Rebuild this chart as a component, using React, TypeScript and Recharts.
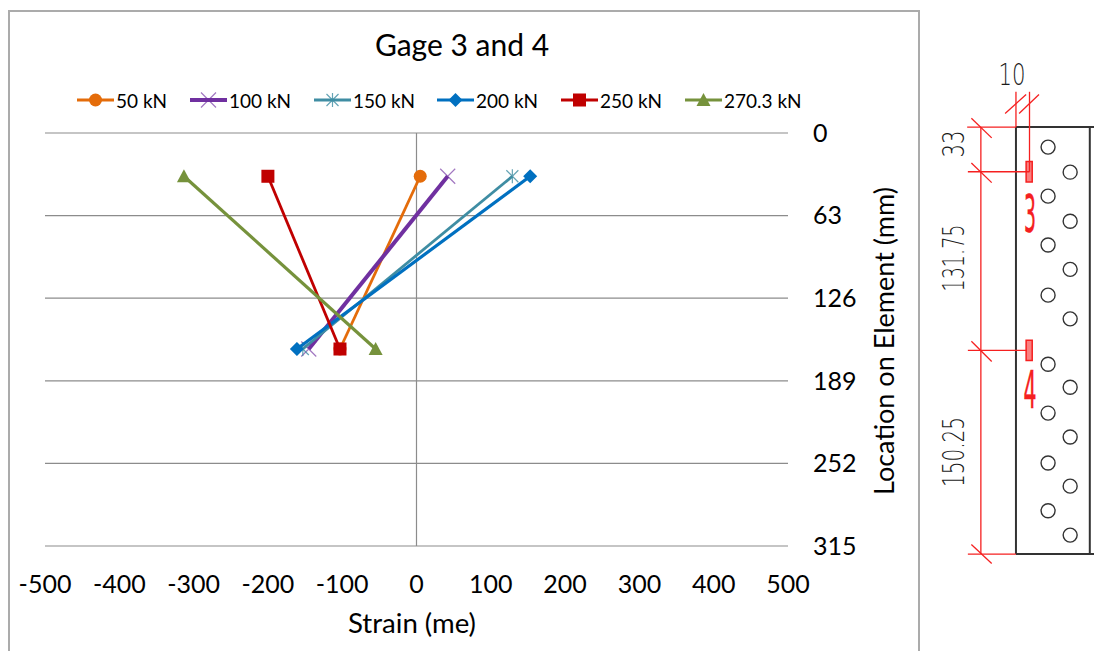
import React from 'react';
import {
  ScatterChart, Scatter, XAxis, YAxis, CartesianGrid, ReferenceLine, ReferenceArea, Legend,
} from 'recharts';

// gauge locations on the element (mm) and strains per load step
const gaugeDepths = [33, 164.75];
const strain50 = [5, -103];
const strain100 = [42, -145];
const strain150 = [129, -153];
const strain200 = [153, -161];
const strain250 = [-200, -103];
const strain270 = [-313, -55];

const xTicks = [-500, -400, -300, -200, -100, 0, 100, 200, 300, 400, 500];
const yTicks = [0, 63, 126, 189, 252, 315];

// element detail, all in mm from the top left corner of the plate
const holesCol1 = [14.8, 51, 87, 124, 175, 211, 247.8, 283];
const holesCol2 = [33.3, 69.5, 105, 141.5, 192, 228.6, 264.9, 301];
const holeX1 = 23.7;
const holeX2 = 40;
const dimX = -25.9;

type Marker = 'circle' | 'x' | 'star' | 'diamond' | 'square' | 'triangle';

function toPoints(strains: number[]) {
  return strains.map((strain, i) => ({ strain, depth: gaugeDepths[i] }));
}

const SERIES = [
  { name: '50 kN', values: strain50, color: '#E46C0A', width: 2.8, marker: 'circle' as Marker, left: 77 },
  { name: '100 kN', values: strain100, color: '#7030A0', width: 4, marker: 'x' as Marker, left: 190 },
  { name: '150 kN', values: strain150, color: '#3F8DA3', width: 2.8, marker: 'star' as Marker, left: 314 },
  { name: '200 kN', values: strain200, color: '#0070C0', width: 3.2, marker: 'diamond' as Marker, left: 437 },
  { name: '250 kN', values: strain250, color: '#C00000', width: 2.8, marker: 'square' as Marker, left: 561 },
  { name: '270.3 kN', values: strain270, color: '#76923C', width: 3.2, marker: 'triangle' as Marker, left: 685 },
];

function markerGlyph(type: Marker, cx: number, cy: number, color: string) {
  switch (type) {
    case 'circle':
      return <circle cx={cx} cy={cy} r={6.5} fill={color} />;
    case 'square':
      return <rect x={cx - 6.5} y={cy - 6.5} width={13} height={13} fill={color} />;
    case 'diamond':
      return <path d={`M${cx - 7} ${cy}L${cx} ${cy - 7}L${cx + 7} ${cy}L${cx} ${cy + 7}Z`} fill={color} />;
    case 'triangle':
      return <path d={`M${cx} ${cy - 7}L${cx + 7} ${cy + 6}L${cx - 7} ${cy + 6}Z`} fill={color} />;
    case 'x':
      return (
        <path d={`M${cx - 7.5} ${cy - 7.5}L${cx + 7.5} ${cy + 7.5}M${cx - 7.5} ${cy + 7.5}L${cx + 7.5} ${cy - 7.5}`}
          stroke={color} strokeOpacity={0.65} strokeWidth={1.2} fill="none" />
      );
    default:
      return (
        <path d={`M${cx - 6} ${cy - 6}L${cx + 6} ${cy + 6}M${cx - 6} ${cy + 6}L${cx + 6} ${cy - 6}M${cx} ${cy - 7}L${cx} ${cy + 7}`}
          stroke={color} strokeOpacity={0.8} strokeWidth={1.2} fill="none" />
      );
  }
}

const LegendRow = () => (
  <div style={{ position: 'relative', width: 918, height: 24 }}>
    {SERIES.map((s) => (
      <div key={s.name} style={{ position: 'absolute', left: s.left, top: 0, display: 'flex', alignItems: 'center' }}>
        <svg width={37} height={24}>
          <line x1={0} x2={37} y1={12} y2={12} stroke={s.color} strokeWidth={s.width} />
          {markerGlyph(s.marker, 18.5, 12, s.color)}
        </svg>
        <span style={{ marginLeft: 2, fontSize: 19, color: '#000', whiteSpace: 'nowrap' }}>{s.name}</span>
      </div>
    ))}
  </div>
);

const StrainChart = () => (
  <ScatterChart
    width={918}
    height={651}
    margin={{ top: 133, right: 0, bottom: 35, left: 45 }}
    style={{ fontFamily: 'Lato, sans-serif', position: 'absolute', left: 0, top: 0 }}
  >
    <CartesianGrid vertical={false} horizontalValues={yTicks} stroke="#8C8C8C" strokeWidth={1.2} />
    <XAxis
      type="number"
      dataKey="strain"
      domain={[-500, 500]}
      ticks={xTicks}
      interval={0}
      height={46}
      axisLine={false}
      tickLine={false}
      tickMargin={23}
      tick={{ fontSize: 25, fill: '#000' }}
    />
    <YAxis
      type="number"
      dataKey="depth"
      orientation="right"
      reversed
      domain={[0, 315]}
      ticks={yTicks}
      interval={0}
      width={130}
      axisLine={false}
      tickLine={false}
      tickMargin={19}
      tick={{ fontSize: 25, fill: '#000' }}
    />
    <ReferenceLine x={0} stroke="#8C8C8C" strokeWidth={1.2} />
    <Legend content={<LegendRow />} wrapperStyle={{ left: 0, top: 88, width: 918 }} />
    {SERIES.map((s) => (
      <Scatter
        key={s.name}
        name={s.name}
        data={toPoints(s.values)}
        line={{ stroke: s.color, strokeWidth: s.width }}
        isAnimationActive={false}
        shape={(p: any) => markerGlyph(s.marker, p.cx, p.cy, s.color)}
      />
    ))}
    <text x={462} y={56} textAnchor="middle" fontSize={30} fill="#000">Gage 3 and 4</text>
    <text x={412} y={633} textAnchor="middle" fontSize={26} fill="#000" textLength={128} lengthAdjust="spacingAndGlyphs">Strain (me)</text>
    <text x={885} y={341} textAnchor="middle" fontSize={26} fill="#000" textLength={308} lengthAdjust="spacingAndGlyphs"
      transform="rotate(-90 885 341)" dy={9}>Location on Element (mm)</text>
  </ScatterChart>
);

const RED = '#F52020';
const DARK = '#333333';

// dimension lines: [x1, y1, x2, y2] in mm
const redSegments = [
  [dimX, 0, dimX, 315],
  [-36, 0, 0, 0],
  [-35.5, 33, 10, 33],
  [-35.5, 164.75, 8, 164.75],
  [-35.5, 315, 0, 315],
  [0, -26, 0, 0],
  [10, -26, 10, 33],
  [dimX - 7, -6.5, dimX + 8, 8],
  [dimX - 7, 26.5, dimX + 8, 41],
  [dimX - 7, 158, dimX + 8, 173],
  [dimX - 7, 308, dimX + 8, 322],
  [-8, -10, 7.5, -24],
  [2.3, -10, 17, -24],
];
const plateLines = [
  [0, 0, 58, 0],
  [0, 315, 58, 315],
  [0, 0, 0, 315],
  [54.5, 0, 54.5, 315],
];

const dimText = { fontSize: 30, fill: '#1A1A1A', fontWeight: 200, lengthAdjust: 'spacingAndGlyphs', textAnchor: 'middle' } as const;
const gaugeText = { fontSize: 52, fill: RED, stroke: RED, strokeWidth: 0.6, lengthAdjust: 'spacingAndGlyphs', textAnchor: 'middle' } as const;

const ElementDetail = () => (
  <ScatterChart
    width={176}
    height={651}
    margin={{ top: 0, right: 0, bottom: 0, left: 0 }}
    style={{ position: 'absolute', left: 918, top: 0, fontFamily: '"DejaVu Sans", sans-serif' }}
  >
    {/* about 1.355 px per mm, plate corner at page x 1016, y 127 */}
    <XAxis type="number" dataKey="x" domain={[-72.3, 57.6]} hide />
    <YAxis type="number" dataKey="y" domain={[-93.7, 386.5]} reversed hide />
    {plateLines.map(([x1, y1, x2, y2], i) => (
      <ReferenceLine key={`p${i}`} segment={[{ x: x1, y: y1 }, { x: x2, y: y2 }]} stroke={DARK} strokeWidth={2} ifOverflow="visible" />
    ))}
    {redSegments.map(([x1, y1, x2, y2], i) => (
      <ReferenceLine key={`r${i}`} segment={[{ x: x1, y: y1 }, { x: x2, y: y2 }]} stroke={RED} strokeWidth={1.3} ifOverflow="visible" />
    ))}
    {gaugeDepths.map((d) => (
      <ReferenceArea key={d} x1={7.5} x2={12} y1={d - 7.5} y2={d + 7.5} fill="#F98080" fillOpacity={1} stroke={RED} strokeWidth={1.5} ifOverflow="visible" />
    ))}
    {[{ col: holeX1, ys: holesCol1 }, { col: holeX2, ys: holesCol2 }].map(({ col, ys }) => (
      <Scatter
        key={col}
        data={ys.map((y) => ({ x: col, y }))}
        isAnimationActive={false}
        shape={(p: any) => <circle cx={p.cx} cy={p.cy} r={7} fill="#fff" stroke={DARK} strokeWidth={1.4} />}
      />
    ))}
    <text {...dimText} x={94} y={85} textLength={27}>10</text>
    <text {...dimText} textLength={27} transform="translate(46 144) rotate(-90)">33</text>
    <text {...dimText} textLength={67} transform="translate(46 258) rotate(-90)">131.75</text>
    <text {...dimText} textLength={70} transform="translate(46 452) rotate(-90)">150.25</text>
    <text {...gaugeText} textLength={12} transform="translate(112 232)">3</text>
    <text {...gaugeText} textLength={13} transform="translate(112 408)">4</text>
  </ScatterChart>
);

export default function App() {
  return (
    <div style={{ position: 'fixed', left: 0, top: 0, width: 1094, height: 651, overflow: 'hidden', background: '#fff' }}>
      <div style={{ position: 'absolute', left: 8, top: 10, width: 908, height: 700, border: '2px solid #ABABAB' }} />
      <StrainChart />
      <ElementDetail />
    </div>
  );
}
